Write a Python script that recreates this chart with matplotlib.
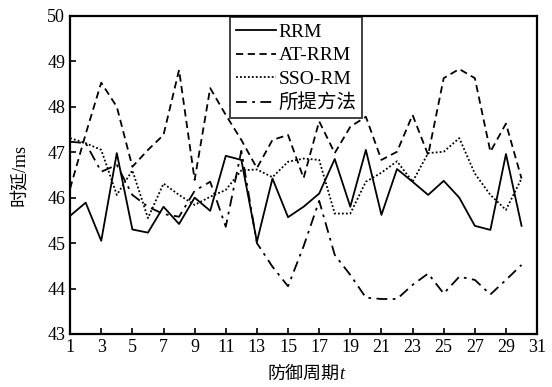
import numpy as np
import matplotlib
matplotlib.use("Agg")
import matplotlib.pyplot as plt

plt.rcParams["font.family"] = ["Liberation Serif", "Noto Sans CJK SC"]

# defence periods
periods = list(range(1, 31))

# delay (ms) per method
rrm = [45.6, 45.89, 45.05, 46.98, 45.3, 45.23, 45.8, 45.42, 46.0, 45.71,
       46.92, 46.83, 45.03, 46.42, 45.57, 45.8, 46.09, 46.85, 45.8, 47.05,
       45.62, 46.63, 46.35, 46.06, 46.37, 46.0, 45.38, 45.29, 46.96, 45.38]
at_rrm = [46.2, 47.4, 48.53, 48.0, 46.68, 47.05, 47.38, 48.81, 46.39, 48.41,
          47.82, 47.27, 46.65, 47.27, 47.38, 46.43, 47.68, 46.98, 47.56, 47.78,
          46.83, 47.01, 47.82, 46.94, 48.63, 48.83, 48.63, 47.01, 47.63, 46.42]
sso_rm = [47.31, 47.2, 47.05, 46.06, 46.6, 45.55, 46.31, 46.06, 45.84, 46.02,
          46.17, 46.6, 46.62, 46.45, 46.79, 46.86, 46.83, 45.65, 45.65, 46.35,
          46.55, 46.8, 46.35, 46.98, 47.01, 47.31, 46.53, 46.06, 45.73, 46.42]
proposed = [47.23, 47.2, 46.57, 46.72, 46.06, 45.8, 45.64, 45.58, 46.15, 46.35,
            45.36, 47.03, 45.0, 44.48, 44.05, 44.93, 45.93, 44.74, 44.3, 43.8,
            43.77, 43.77, 44.08, 44.33, 43.89, 44.26, 44.19, 43.87, 44.19, 44.52]

series_labels = ["RRM", "AT-RRM", "SSO-RM", "所提方法"]
x_ticks = list(range(1, 32, 2))
y_ticks = list(range(43, 51))

fig = plt.figure(figsize=(5.52, 3.87), dpi=100)
ax = fig.add_axes([0.127, 0.137, 0.846, 0.822])

lw = 1.3
ax.plot(periods, rrm, color="black", linestyle="-", linewidth=lw, label=series_labels[0])
ax.plot(periods, at_rrm, color="black", linestyle=(0, (4, 2.5)), linewidth=lw, label=series_labels[1])
ax.plot(periods, sso_rm, color="black", linestyle=(0, (1, 1.2)), linewidth=lw, label=series_labels[2])
ax.plot(periods, proposed, color="black", linestyle=(0, (6, 3, 1.5, 3)), linewidth=lw, label=series_labels[3])

ax.set_xlim(1, 31)
ax.set_ylim(43, 50)
ax.set_xticks(x_ticks)
ax.set_yticks(y_ticks)
ax.tick_params(direction="in", length=4, width=1.2, labelsize=13, top=False, right=False)

for s in ax.spines.values():
    s.set_linewidth(1.6)

# x label: CJK text followed by an italic t
xlab = ax.text(0.5, -0.1, "防御周期", transform=ax.transAxes,
               ha="center", va="top", fontsize=13)
ax.annotate("t", xy=(1, 0), xycoords=xlab, ha="left", va="bottom",
            fontsize=13, style="italic")
ax.set_ylabel("时延/ms", fontsize=13, labelpad=13)

leg = ax.legend(
    loc="upper left",
    bbox_to_anchor=(0.342, 0.995),
    fontsize=14,
    frameon=True,
    fancybox=False,
    handlelength=2.1,
    handletextpad=0.1,
    labelspacing=0.3,
    borderpad=0.3,
    borderaxespad=0.0,
)
leg.get_frame().set_edgecolor("black")
leg.get_frame().set_linewidth(1.3)

fig.savefig("out.png", dpi=100)
